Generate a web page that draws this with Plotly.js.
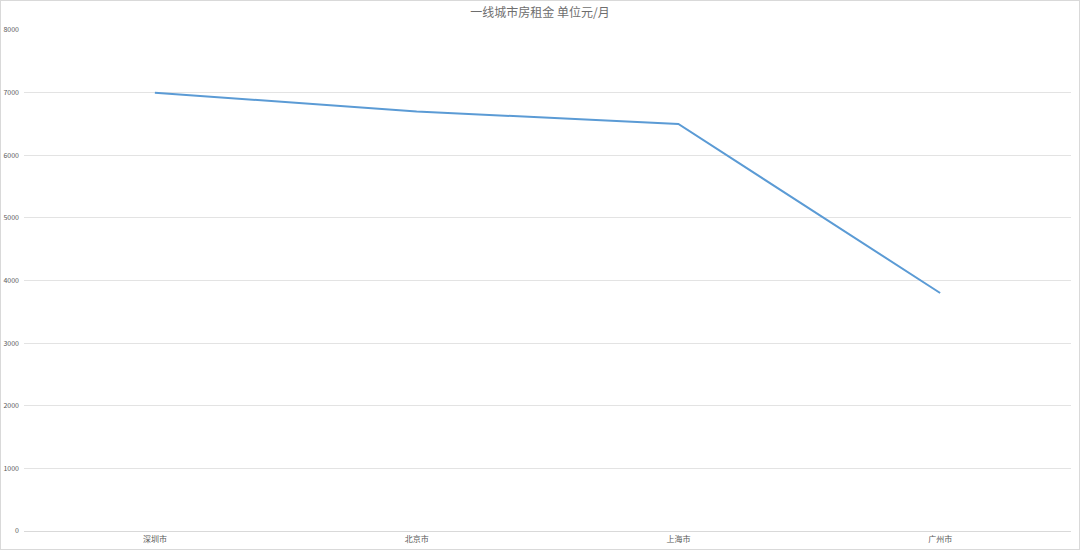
<!DOCTYPE html>
<html>
<head>
<meta charset="utf-8">
<script src="https://cdn.plot.ly/plotly-3.0.1.min.js"></script>
<style>
  html, body { margin: 0; padding: 0; background: #fff; }
  #chart { width: 1080px; height: 550px; box-sizing: border-box; border: 1px solid #d9d9d9; }
</style>
</head>
<body>
<div id="chart"></div>
<script>
const cities = ["深圳市", "北京市", "上海市", "广州市"];
const rent = [7000, 6700, 6500, 3800];
const yTicks = [0, 1000, 2000, 3000, 4000, 5000, 6000, 7000, 8000];

const trace = {
  x: cities,
  y: rent,
  type: "scatter",
  mode: "lines",
  line: { color: "#5b9bd5", width: 2 },
  hoverinfo: "x+y",
};

const layout = {
  width: 1078,
  height: 548,
  paper_bgcolor: "#fff",
  plot_bgcolor: "#fff",
  font: { family: "Noto Sans CJK SC, sans-serif", color: "#595959", size: 8 },
  title: {
    text: "一线城市房租金 单位元/月",
    font: { size: 12, color: "#6e6e6e" },
    x: 0.5,
    xanchor: "center",
    y: 0.979,
    yanchor: "middle",
  },
  margin: { l: 23, r: 8, t: 29, b: 18, pad: 0 },
  showlegend: false,
  xaxis: {
    type: "category",
    range: [-0.5, 3.5],
    showgrid: false,
    showline: true,
    linecolor: "#d9d9d9",
    linewidth: 1,
    ticks: "",
    tickfont: { size: 8, color: "#595959" },
    fixedrange: true,
  },
  yaxis: {
    range: [0, 8000],
    tickvals: yTicks,
    ticktext: yTicks.map(String),
    showgrid: true,
    gridcolor: "#e3e3e3",
    gridwidth: 1,
    zeroline: false,
    showline: false,
    ticks: "",
    ticklabelstandoff: 4,
    tickfont: { size: 7, color: "#595959" },
    fixedrange: true,
  },
};

Plotly.newPlot("chart", [trace], layout, { displayModeBar: false, staticPlot: true });
</script>
</body>
</html>
